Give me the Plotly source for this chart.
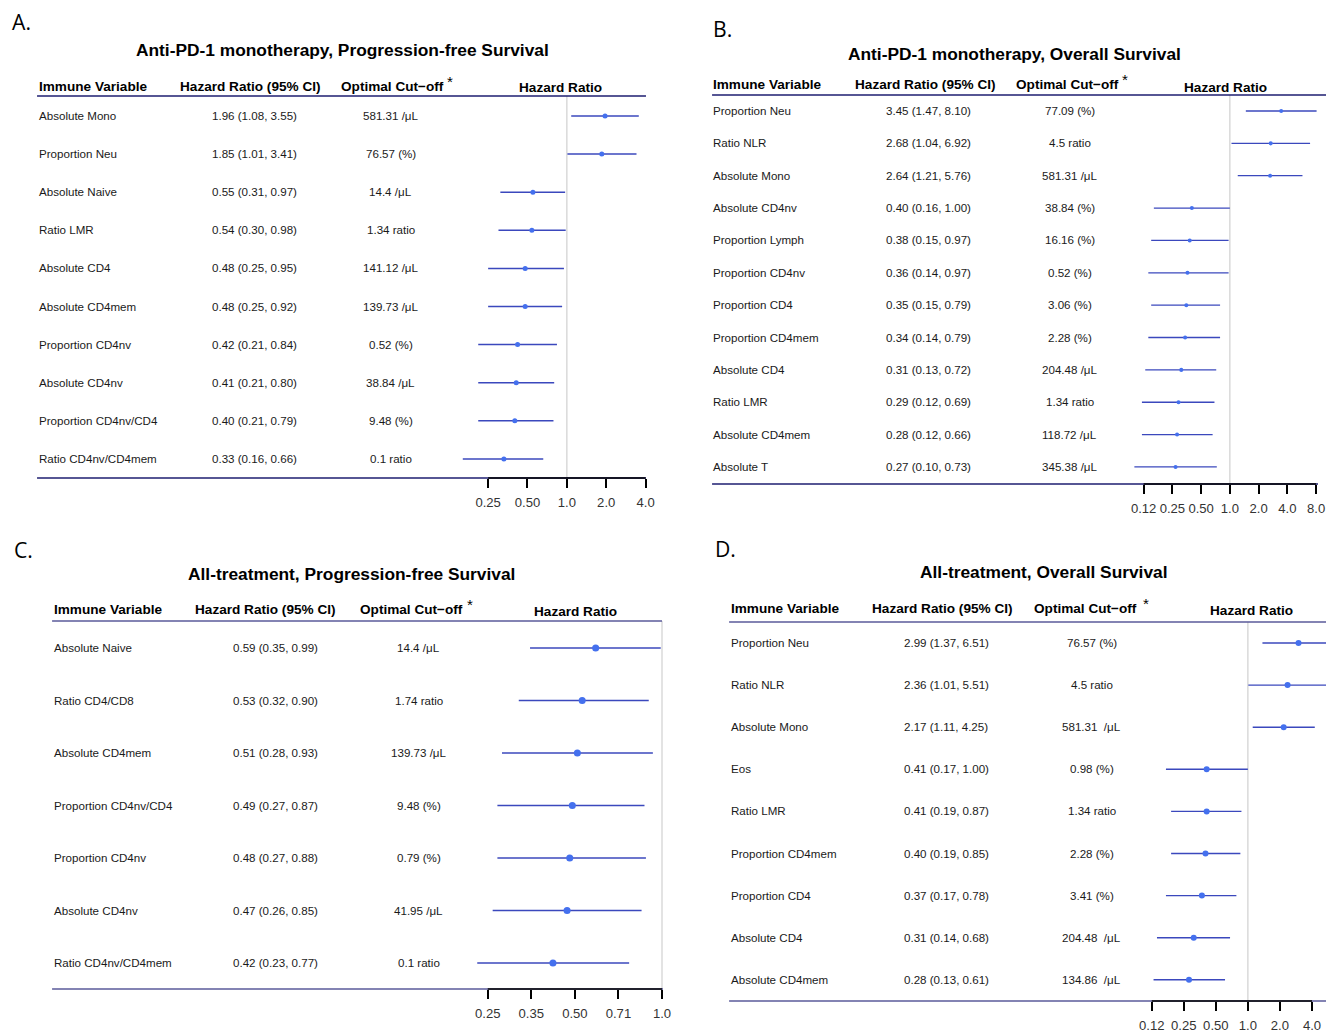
import math
import plotly.graph_objects as go

# Layout is designed on a 1326 x 1030 frame; the canvas is slightly larger
FRAME_W, FRAME_H = 1326, 1030
KX, KY = 1.008, 1.003
W, H = round(FRAME_W * KX), round(FRAME_H * KY)

# ---------------- Panel A: Anti-PD-1 monotherapy, PFS ----------------
a_vars = ["Absolute Mono", "Proportion Neu", "Absolute Naive", "Ratio LMR", "Absolute CD4",
          "Absolute CD4mem", "Proportion CD4nv", "Absolute CD4nv", "Proportion CD4nv/CD4",
          "Ratio CD4nv/CD4mem"]
a_hr = [1.96, 1.85, 0.55, 0.54, 0.48, 0.48, 0.42, 0.41, 0.40, 0.33]
a_lo = [1.08, 1.01, 0.31, 0.30, 0.25, 0.25, 0.21, 0.21, 0.21, 0.16]
a_hi = [3.55, 3.41, 0.97, 0.98, 0.95, 0.92, 0.84, 0.80, 0.79, 0.66]
a_cut = ["581.31 /μL", "76.57 (%)", "14.4 /μL", "1.34 ratio", "141.12 /μL", "139.73 /μL",
         "0.52 (%)", "38.84 /μL", "9.48 (%)", "0.1 ratio"]
a_ticks = [0.25, 0.5, 1.0, 2.0, 4.0]
a_ticktext = ["0.25", "0.50", "1.0", "2.0", "4.0"]

# ---------------- Panel B: Anti-PD-1 monotherapy, OS ----------------
b_vars = ["Proportion Neu", "Ratio NLR", "Absolute Mono", "Absolute CD4nv", "Proportion Lymph",
          "Proportion CD4nv", "Proportion CD4", "Proportion CD4mem", "Absolute CD4", "Ratio LMR",
          "Absolute CD4mem", "Absolute T"]
b_hr = [3.45, 2.68, 2.64, 0.40, 0.38, 0.36, 0.35, 0.34, 0.31, 0.29, 0.28, 0.27]
b_lo = [1.47, 1.04, 1.21, 0.16, 0.15, 0.14, 0.15, 0.14, 0.13, 0.12, 0.12, 0.10]
b_hi = [8.10, 6.92, 5.76, 1.00, 0.97, 0.97, 0.79, 0.79, 0.72, 0.69, 0.66, 0.73]
b_cut = ["77.09 (%)", "4.5 ratio", "581.31 /μL", "38.84 (%)", "16.16 (%)", "0.52 (%)",
         "3.06 (%)", "2.28 (%)", "204.48 /μL", "1.34 ratio", "118.72 /μL", "345.38 /μL"]
b_ticks = [0.125, 0.25, 0.5, 1.0, 2.0, 4.0, 8.0]
b_ticktext = ["0.12", "0.25", "0.50", "1.0", "2.0", "4.0", "8.0"]

# ---------------- Panel C: All-treatment, PFS ----------------
c_vars = ["Absolute Naive", "Ratio CD4/CD8", "Absolute CD4mem", "Proportion CD4nv/CD4",
          "Proportion CD4nv", "Absolute CD4nv", "Ratio CD4nv/CD4mem"]
c_hr = [0.59, 0.53, 0.51, 0.49, 0.48, 0.47, 0.42]
c_lo = [0.35, 0.32, 0.28, 0.27, 0.27, 0.26, 0.23]
c_hi = [0.99, 0.90, 0.93, 0.87, 0.88, 0.85, 0.77]
c_cut = ["14.4 /μL", "1.74 ratio", "139.73 /μL", "9.48 (%)", "0.79 (%)", "41.95 /μL", "0.1 ratio"]
c_ticks = [0.25, 0.3536, 0.5, 0.7071, 1.0]
c_ticktext = ["0.25", "0.35", "0.50", "0.71", "1.0"]

# ---------------- Panel D: All-treatment, OS ----------------
d_vars = ["Proportion Neu", "Ratio NLR", "Absolute Mono", "Eos", "Ratio LMR", "Proportion CD4mem",
          "Proportion CD4", "Absolute CD4", "Absolute CD4mem"]
d_hr = [2.99, 2.36, 2.17, 0.41, 0.41, 0.40, 0.37, 0.31, 0.28]
d_lo = [1.37, 1.01, 1.11, 0.17, 0.19, 0.19, 0.17, 0.14, 0.13]
d_hi = [6.51, 5.51, 4.25, 1.00, 0.87, 0.85, 0.78, 0.68, 0.61]
d_cut = ["76.57 (%)", "4.5 ratio", "581.31\u00a0 /μL", "0.98 (%)", "1.34 ratio", "2.28 (%)",
         "3.41 (%)", "204.48\u00a0 /μL", "134.86\u00a0 /μL"]
d_ticks = [0.125, 0.25, 0.5, 1.0, 2.0, 4.0]
d_ticktext = ["0.12", "0.25", "0.50", "1.0", "2.0", "4.0"]

# Geometry of each table, in frame pixels
panels = [
    dict(tag="A.", tag_xy=(10, 22), title="Anti-PD-1 monotherapy, Progression-free Survival",
         title_xy=(342, 50), vars=a_vars, hr=a_hr, lo=a_lo, hi=a_hi, cut=a_cut,
         ticks=a_ticks, ticktext=a_ticktext,
         left=37, right=645, hdr_right=645, one_px=566, dbl_px=39.3,
         header_y=96, bottom_y=478, first_y=116, step=38.1, head_text_y=86, head_hr_y=88,
         name_x=37, hr_x=254, cut_x=390, h_hr_x=250, h_cut_x=392, h_star_x=449, h_plot_x=560,
         line_w=1.5, dot=5, hdr_col="#1e1e70"),
    dict(tag="B.", tag_xy=(710, 28), title="Anti-PD-1 monotherapy, Overall Survival",
         title_xy=(1013, 54), vars=b_vars, hr=b_hr, lo=b_lo, hi=b_hi, cut=b_cut,
         ticks=b_ticks, ticktext=b_ticktext,
         left=711, right=1316, hdr_right=1326, one_px=1228, dbl_px=28.7,
         header_y=95, bottom_y=484, first_y=111, step=32.36, head_text_y=84, head_hr_y=87,
         name_x=710, hr_x=927, cut_x=1068, h_hr_x=924, h_cut_x=1066, h_star_x=1123, h_plot_x=1224,
         line_w=1.3, dot=4, hdr_col="#1e1e70"),
    dict(tag="C.", tag_xy=(12, 549), title="All-treatment, Progression-free Survival",
         title_xy=(351, 574), vars=c_vars, hr=c_hr, lo=c_lo, hi=c_hi, cut=c_cut,
         ticks=c_ticks, ticktext=c_ticktext,
         left=52, right=662, hdr_right=661, one_px=661, dbl_px=87.0,
         header_y=621, bottom_y=989, first_y=648, step=52.5, head_text_y=609, head_hr_y=611,
         name_x=52, hr_x=275, cut_x=418, h_hr_x=265, h_cut_x=411, h_star_x=469, h_plot_x=575,
         line_w=1.4, dot=7, hdr_col="#5a5a9a"),
    dict(tag="D.", tag_xy=(712, 548), title="All-treatment, Overall Survival",
         title_xy=(1042, 572), vars=d_vars, hr=d_hr, lo=d_lo, hi=d_hi, cut=d_cut,
         ticks=d_ticks, ticktext=d_ticktext,
         left=728, right=1326, hdr_right=1326, one_px=1246, dbl_px=32.0,
         header_y=622, bottom_y=1001, first_y=643, step=42.1, head_text_y=608, head_hr_y=610,
         name_x=728, hr_x=945, cut_x=1090, h_hr_x=941, h_cut_x=1084, h_star_x=1144, h_plot_x=1250,
         line_w=1.4, dot=6, hdr_col="#5a5a9a"),
]

FONT = "Liberation Sans, Arial, sans-serif"
LINE_COL = "#3b48bd"
DOT_COL = "#4470ee"


def px(x):
    return x / FRAME_W


def py(y):
    return 1 - y / FRAME_H


def sz(v):
    return v * KX


fig = go.Figure()
annotations = []
shapes = []
layout_axes = {}

for k, p in enumerate(panels, start=1):
    xa = "x" if k == 1 else f"x{k}"
    ya = "y" if k == 1 else f"y{k}"
    n = len(p["vars"])

    # log-scale x range from the pixel geometry of the table
    dec_px = p["dbl_px"] / math.log10(2)
    x_lo = (p["left"] - p["one_px"]) / dec_px
    x_hi = (p["right"] - p["one_px"]) / dec_px

    # rows: index 0 at the top
    height = p["bottom_y"] - p["header_y"]
    y_top = -(p["first_y"] - p["header_y"]) / p["step"]
    y_bot = y_top + height / p["step"]

    layout_axes["xaxis" if k == 1 else f"xaxis{k}"] = dict(
        domain=[px(p["left"]), px(p["right"])], anchor=ya, type="log",
        range=[x_lo, x_hi], tickvals=p["ticks"], ticktext=p["ticktext"],
        ticks="outside", ticklen=9, tickwidth=1.5, tickcolor="#000000",
        showline=False, showgrid=False, zeroline=False,
        tickfont=dict(family=FONT, size=sz(13), color="#333333"), ticklabelstandoff=3,
    )
    layout_axes["yaxis" if k == 1 else f"yaxis{k}"] = dict(
        domain=[py(p["bottom_y"]), py(p["header_y"])], anchor=xa,
        range=[y_bot, y_top], visible=False, showgrid=False, zeroline=False,
    )

    # reference line at HR = 1
    shapes.append(dict(type="line", xref=xa, yref=f"{ya} domain", x0=1, x1=1, y0=0, y1=1,
                       line=dict(color="#d4d4d4", width=1.3), layer="below"))
    # header rule and bottom rule of the table
    shapes.append(dict(type="line", xref="paper", yref="paper",
                       x0=px(p["left"]), x1=px(p["hdr_right"]),
                       y0=py(p["header_y"]), y1=py(p["header_y"]),
                       line=dict(color=p["hdr_col"], width=1.4)))
    shapes.append(dict(type="line", xref="paper", yref="paper",
                       x0=px(p["left"]), x1=px(p["right"]), y0=py(p["bottom_y"]), y1=py(p["bottom_y"]),
                       line=dict(color=p["hdr_col"], width=1.4)))
    # axis line spanning the tick range
    shapes.append(dict(type="line", xref=xa, yref=f"{ya} domain",
                       x0=p["ticks"][0], x1=p["ticks"][-1], y0=0, y1=0,
                       line=dict(color="#000000", width=1.6)))

    # confidence intervals
    cx, cy = [], []
    for i in range(n):
        cx += [p["lo"][i], p["hi"][i], None]
        cy += [i, i, None]
    fig.add_trace(go.Scatter(x=cx, y=cy, mode="lines", xaxis=xa, yaxis=ya,
                             line=dict(color=LINE_COL, width=p["line_w"]),
                             hoverinfo="skip", showlegend=False))
    # point estimates
    fig.add_trace(go.Scatter(x=p["hr"], y=list(range(n)), mode="markers", xaxis=xa, yaxis=ya,
                             marker=dict(color=DOT_COL, size=sz(p["dot"])),
                             hovertemplate="%{x:.2f}<extra></extra>", showlegend=False))

    # table text per row
    row_font = dict(family=FONT, size=sz(11.5), color="#1a1a1a")
    for i in range(n):
        hr_txt = f"{p['hr'][i]:.2f} ({p['lo'][i]:.2f}, {p['hi'][i]:.2f})"
        annotations.append(dict(x=px(p["name_x"]), y=i, xref="paper", yref=ya, text=p["vars"][i],
                                xanchor="left", yanchor="middle", showarrow=False, font=row_font))
        annotations.append(dict(x=px(p["hr_x"]), y=i, xref="paper", yref=ya, text=hr_txt,
                                xanchor="center", yanchor="middle", showarrow=False, font=row_font))
        annotations.append(dict(x=px(p["cut_x"]), y=i, xref="paper", yref=ya, text=p["cut"][i],
                                xanchor="center", yanchor="middle", showarrow=False, font=row_font))

    # column headers
    hfont = dict(family=FONT, size=sz(13.5), color="#000000", weight="bold")
    ty = py(p["head_text_y"])
    annotations.append(dict(x=px(p["name_x"]), y=ty, xref="paper", yref="paper", text="Immune Variable",
                            xanchor="left", yanchor="middle", showarrow=False, font=hfont))
    annotations.append(dict(x=px(p["h_hr_x"]), y=ty, xref="paper", yref="paper",
                            text="Hazard Ratio (95% CI)", xanchor="center", yanchor="middle",
                            showarrow=False, font=hfont))
    annotations.append(dict(x=px(p["h_cut_x"]), y=ty, xref="paper", yref="paper",
                            text="Optimal Cut\u2212off", xanchor="center", yanchor="middle",
                            showarrow=False, font=hfont))
    annotations.append(dict(x=px(p["h_star_x"]), y=py(p["head_text_y"] - 5), xref="paper", yref="paper",
                            text="*", xanchor="center", yanchor="middle", showarrow=False,
                            font=dict(family=FONT, size=sz(15), color="#000000")))
    annotations.append(dict(x=px(p["h_plot_x"]), y=py(p["head_hr_y"]), xref="paper", yref="paper",
                            text="Hazard Ratio", xanchor="center", yanchor="middle",
                            showarrow=False, font=hfont))

    # title and panel letter
    annotations.append(dict(x=px(p["title_xy"][0]), y=py(p["title_xy"][1]), xref="paper", yref="paper",
                            text=p["title"], xanchor="center", yanchor="middle", showarrow=False,
                            font=dict(family=FONT, size=sz(17.2), color="#000000", weight="bold")))
    annotations.append(dict(x=px(p["tag_xy"][0]), y=py(p["tag_xy"][1]), xref="paper", yref="paper",
                            text=p["tag"], xanchor="left", yanchor="middle", showarrow=False,
                            font=dict(family="Open Sans, DejaVu Sans, sans-serif", size=sz(21),
                                      color="#000000")))

fig.update_layout(
    width=W, height=H, autosize=False,
    margin=dict(l=0, r=0, t=0, b=0),
    paper_bgcolor="white", plot_bgcolor="white",
    annotations=annotations, shapes=shapes,
    **layout_axes,
)

fig.write_html("out.html")
